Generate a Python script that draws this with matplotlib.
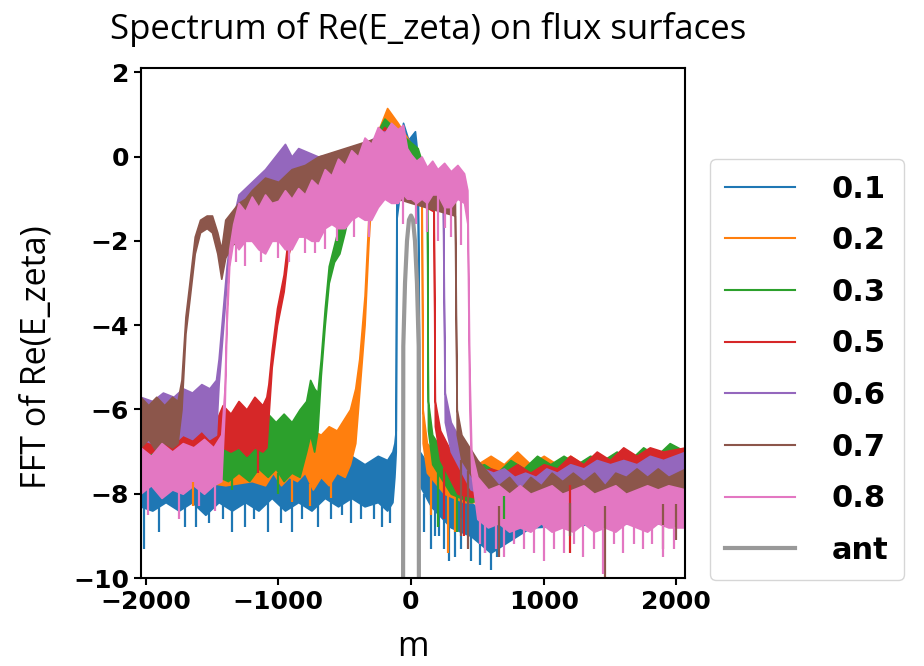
import matplotlib
matplotlib.use("Agg")
import matplotlib.pyplot as plt
from matplotlib.lines import Line2D
import numpy as np

# flux surface labels and matching colours
labels = ["0.1", "0.2", "0.3", "0.5", "0.6", "0.7", "0.8"]
colors = ["#1f77b4", "#ff7f0e", "#2ca02c", "#d62728", "#9467bd", "#8c564b", "#e377c2"]

# spectra: (m, lower edge, upper edge) of the noisy band
s01 = [(-2040, -8.3, -7.4), (-1950, -8.4, -7.6), (-1850, -8.2, -7.4), (-1750, -8.4, -7.5),
       (-1650, -8.2, -7.3), (-1550, -8.5, -7.5), (-1450, -8.2, -7.3), (-1350, -8.4, -7.4),
       (-1250, -8.2, -7.3), (-1150, -8.4, -7.4), (-1050, -8.1, -7.2), (-950, -8.4, -7.3),
       (-850, -8.2, -7.1), (-750, -8.4, -7.3), (-650, -8.1, -7.0), (-550, -8.3, -7.2),
       (-450, -8.1, -7.1), (-350, -8.3, -7.3), (-250, -8.2, -7.1), (-180, -8.4, -7.2),
       (-140, -8.2, -7.0), (-125, -7.6, -6.8), (-115, -7.0, -6.5), (-110, -1.5, -0.8),
       (-90, -1.0, 0.2), (-60, -0.6, 0.8), (-20, -0.8, 0.4), (30, -0.6, 0.6),
       (50, -1.0, 0.0), (60, -6.0, -4.0), (65, -7.8, -7.0), (150, -8.3, -7.4),
       (300, -8.8, -7.8), (450, -9.0, -8.2), (600, -9.4, -8.6), (700, -9.2, -8.4),
       (900, -8.8, -8.1), (1500, -8.7, -8.0), (2070, -8.7, -8.0)]
s02 = [(-2040, -7.7, -6.8), (-1800, -7.8, -6.9), (-1600, -7.7, -6.8), (-1400, -7.8, -6.9),
       (-1200, -7.7, -6.8), (-1100, -7.8, -6.7), (-1040, -7.5, -6.9), (-980, -7.8, -6.6),
       (-920, -7.6, -6.8), (-860, -7.7, -6.5), (-800, -7.5, -6.7), (-740, -7.9, -6.5),
       (-680, -7.6, -6.6), (-620, -7.8, -6.4), (-560, -7.5, -6.5), (-500, -7.6, -6.2),
       (-460, -7.3, -6.0), (-420, -6.8, -5.5), (-390, -5.6, -4.8), (-350, -4.0, -3.3),
       (-320, -2.0, -1.4), (-300, -1.0, -0.3), (-250, -0.6, 0.6), (-180, -0.3, 1.15),
       (-100, -0.5, 0.8), (0, -0.8, 0.3), (45, -0.8, 0.2), (80, -1.2, -0.4),
       (88, -6.8, -6.0), (120, -7.5, -6.8), (250, -8.0, -7.3), (400, -8.2, -7.5),
       (500, -8.2, -7.3), (600, -8.2, -7.1), (700, -8.1, -7.3), (800, -8.1, -7.0),
       (900, -8.0, -7.3), (1000, -8.0, -7.1), (1100, -7.9, -7.3), (1200, -7.9, -7.1),
       (1300, -7.8, -7.3), (1400, -7.8, -7.1), (1500, -7.7, -7.2), (1600, -7.7, -7.0),
       (1700, -7.7, -7.2), (1800, -7.6, -7.0), (1900, -7.6, -7.1), (2070, -7.6, -6.9)]
s03 = [(-2040, -7.6, -6.6), (-1700, -7.6, -6.6), (-1450, -7.6, -6.5), (-1380, -7.7, -6.4),
       (-1300, -7.5, -6.5), (-1220, -7.7, -6.3), (-1150, -7.4, -6.4), (-1080, -7.6, -6.1),
       (-1020, -7.4, -6.3), (-960, -7.7, -6.1), (-900, -7.5, -6.3), (-840, -7.6, -6.0),
       (-790, -7.0, -5.8), (-760, -6.6, -5.3), (-730, -7.0, -5.5), (-705, -6.5, -5.6),
       (-680, -5.2, -4.8), (-650, -4.0, -3.6), (-620, -3.0, -2.6), (-580, -2.5, -2.1),
       (-540, -2.3, -1.6), (-500, -1.8, -1.0), (-460, -1.2, -0.5), (-350, -0.9, 0.0),
       (-200, -0.5, 0.9), (-100, -0.6, 0.6), (50, -0.8, 0.2), (120, -1.2, -0.5),
       (128, -6.5, -5.8), (160, -7.3, -6.6), (300, -8.0, -7.3), (450, -8.2, -7.4),
       (550, -8.1, -7.3), (650, -8.1, -7.5), (750, -8.0, -7.2), (850, -8.0, -7.4),
       (950, -7.9, -7.1), (1050, -7.9, -7.3), (1150, -7.8, -7.1), (1250, -7.8, -7.3),
       (1350, -7.7, -7.1), (1450, -7.7, -7.2), (1550, -7.7, -7.0), (1650, -7.6, -7.2),
       (1750, -7.6, -6.9), (1850, -7.6, -7.1), (1950, -7.5, -6.8), (2070, -7.5, -7.0)]
s05 = [(-2040, -7.2, -6.4), (-1950, -7.0, -6.6), (-1870, -7.3, -6.4), (-1800, -7.1, -6.6),
       (-1730, -7.2, -6.3), (-1660, -7.0, -6.5), (-1590, -7.2, -6.3), (-1520, -7.1, -6.4),
       (-1460, -7.1, -6.2), (-1420, -6.9, -5.9), (-1360, -7.0, -6.1), (-1300, -6.9, -5.8),
       (-1240, -7.1, -6.0), (-1180, -6.9, -5.7), (-1120, -7.0, -5.9), (-1090, -6.9, -5.7),
       (-1075, -6.2, -5.4), (-1050, -5.0, -4.6), (-1010, -4.0, -3.6), (-960, -3.2, -2.8),
       (-930, -2.4, -2.0), (-890, -1.9, -1.5), (-850, -1.7, -1.2), (-700, -1.5, -0.6),
       (-400, -1.2, -0.2), (-200, -0.8, 0.7), (0, -1.0, 0.0), (170, -1.3, -0.6),
       (180, -6.4, -5.8), (220, -7.2, -6.5), (350, -8.0, -7.3), (500, -8.1, -7.5),
       (600, -8.1, -7.4), (700, -8.0, -7.5), (800, -8.0, -7.3), (900, -8.0, -7.5),
       (1000, -8.0, -7.3), (1100, -7.9, -7.4), (1200, -7.8, -7.1), (1300, -7.8, -7.3),
       (1400, -7.8, -7.0), (1500, -7.7, -7.2), (1600, -7.7, -6.9), (1700, -7.7, -7.1),
       (1800, -7.6, -6.9), (1900, -7.6, -7.0), (2070, -7.5, -6.9)]
s06 = [(-2040, -6.7, -5.7), (-1950, -6.8, -5.8), (-1870, -6.6, -5.6), (-1790, -6.8, -5.7),
       (-1720, -6.6, -5.5), (-1650, -6.7, -5.6), (-1580, -6.5, -5.4), (-1520, -6.7, -5.5),
       (-1470, -6.6, -5.3), (-1450, -5.4, -4.8), (-1420, -4.2, -3.7), (-1390, -3.0, -2.6),
       (-1350, -2.0, -1.6), (-1300, -1.4, -0.9), (-1200, -1.0, -0.6), (-1100, -0.8, -0.3),
       (-1000, -0.8, 0.1), (-950, -0.9, 0.3), (-900, -0.9, 0.0), (-850, -1.0, 0.2),
       (-700, -1.0, 0.0), (-400, -1.0, 0.2), (-200, -0.8, 0.6), (0, -1.0, -0.2),
       (240, -1.2, -0.6), (255, -6.3, -5.6), (300, -7.0, -6.3), (450, -7.9, -7.2),
       (540, -8.0, -7.4), (620, -8.1, -7.5), (700, -8.0, -7.4), (780, -8.1, -7.6),
       (860, -8.1, -7.5), (940, -8.0, -7.6), (1020, -8.0, -7.4), (1100, -8.0, -7.5),
       (1200, -7.9, -7.3), (1300, -7.9, -7.4), (1400, -7.9, -7.2), (1500, -7.8, -7.3),
       (1600, -7.8, -7.2), (1700, -7.8, -7.3), (1800, -7.7, -7.1), (1900, -7.7, -7.2),
       (2070, -7.6, -7.0)]
s07 = [(-2040, -6.9, -5.7), (-1980, -6.7, -5.9), (-1920, -7.0, -5.7), (-1860, -6.8, -5.9),
       (-1800, -6.9, -5.7), (-1760, -6.8, -5.8), (-1730, -6.0, -5.3), (-1700, -4.2, -3.8),
       (-1670, -3.4, -3.0), (-1630, -2.3, -1.9), (-1590, -1.8, -1.5), (-1540, -1.7, -1.4),
       (-1500, -1.8, -1.4), (-1460, -2.3, -1.8), (-1430, -2.9, -2.2), (-1400, -2.4, -1.5),
       (-1350, -2.1, -1.3), (-1300, -2.0, -1.1), (-1250, -1.9, -1.0), (-1200, -2.0, -0.8),
       (-1100, -1.8, -0.5), (-1000, -1.7, -0.6), (-900, -1.6, -0.3), (-800, -1.5, -0.2),
       (-700, -1.3, 0.0), (-600, -1.4, 0.1), (-400, -1.2, 0.3), (-200, -0.9, 0.5),
       (0, -1.1, -0.2), (330, -1.4, -0.6), (345, -6.6, -6.0), (380, -7.2, -6.6),
       (500, -7.8, -7.2), (580, -8.2, -7.5), (660, -8.3, -7.8), (740, -8.2, -7.6),
       (820, -8.3, -7.9), (900, -8.2, -7.6), (980, -8.3, -7.8), (1060, -8.2, -7.5),
       (1140, -8.3, -7.7), (1220, -8.2, -7.5), (1300, -8.3, -7.7), (1380, -8.2, -7.5),
       (1460, -8.3, -7.8), (1540, -8.2, -7.5), (1620, -8.3, -7.6), (1700, -8.2, -7.4),
       (1780, -8.3, -7.6), (1860, -8.2, -7.4), (1940, -8.3, -7.6), (2070, -8.2, -7.4)]
s08 = [(-2040, -8.0, -6.9), (-1960, -7.8, -7.1), (-1880, -8.1, -6.8), (-1800, -7.9, -7.0),
       (-1720, -8.0, -6.8), (-1640, -7.8, -6.9), (-1560, -8.0, -6.7), (-1490, -7.8, -6.9),
       (-1430, -7.7, -6.6), (-1405, -6.0, -5.5), (-1390, -4.0, -3.6), (-1370, -2.6, -2.2),
       (-1340, -2.0, -1.6), (-1300, -2.2, -1.1), (-1250, -2.0, -1.3), (-1200, -2.0, -0.95),
       (-1150, -2.2, -1.2), (-1100, -2.3, -0.9), (-1050, -2.0, -1.1), (-1000, -2.0, -1.05),
       (-950, -2.2, -0.8), (-900, -2.2, -1.0), (-850, -1.9, -0.75), (-800, -1.9, -0.9),
       (-750, -2.0, -0.55), (-700, -2.0, -0.7), (-650, -1.7, -0.3), (-600, -1.6, -0.45),
       (-550, -1.7, -0.05), (-500, -1.7, -0.2), (-450, -1.5, 0.15), (-400, -1.4, 0.0),
       (-350, -1.5, 0.45), (-300, -1.5, 0.3), (-250, -1.2, 0.7), (-200, -1.0, 0.55),
       (-150, -1.1, 0.8), (-100, -1.1, 0.65), (-60, -0.9, 0.75), (-30, -1.0, 0.2),
       (0, -1.0, 0.05), (40, -1.1, -0.1), (80, -1.0, 0.0), (120, -1.1, -0.25),
       (160, -0.9, -0.1), (200, -0.9, -0.3), (250, -1.2, -0.15), (300, -1.2, -0.35),
       (350, -1.0, -0.2), (400, -1.1, -0.4), (425, -1.6, -0.8), (440, -6.0, -5.0),
       (455, -7.5, -7.0), (500, -8.6, -7.6), (580, -8.8, -7.9), (660, -8.7, -7.8),
       (740, -8.9, -8.0), (820, -8.8, -7.8), (900, -8.9, -8.0), (980, -8.7, -7.9),
       (1060, -8.9, -7.8), (1140, -8.8, -8.0), (1220, -8.9, -7.9), (1300, -8.7, -7.8),
       (1380, -8.9, -8.0), (1460, -8.8, -7.9), (1540, -8.9, -7.8), (1620, -8.7, -8.0),
       (1700, -8.8, -7.9), (1780, -8.9, -7.8), (1860, -8.7, -7.9), (1940, -8.8, -7.8),
       (2070, -8.8, -7.9)]
series = [s01, s02, s03, s05, s06, s07, s08]

# downward spikes: (m, value)
spikes01 = [(-2010, -9.3), (-1900, -8.9), (-1700, -8.8), (-1620, -8.8), (-1520, -8.7),
            (-1420, -8.6), (-1350, -8.9), (-1250, -8.8), (-1180, -8.6), (-1080, -8.9),
            (-980, -8.7), (-900, -8.9), (-820, -8.6), (-700, -8.8), (-600, -8.6),
            (-520, -8.5), (-450, -8.7), (-380, -8.6), (-280, -8.6), (-220, -8.8),
            (-160, -8.7), (100, -8.9), (150, -9.3), (180, -9.0), (210, -9.0),
            (250, -9.3), (290, -9.6), (330, -9.5), (380, -9.3), (450, -9.6),
            (520, -9.7), (560, -9.4), (600, -9.8), (650, -9.5)]
spikes02 = [(-1640, -8.3), (-900, -8.2), (-760, -8.3), (-600, -8.1), (150, -8.5),
            (280, -9.4), (330, -8.9)]
spikes03 = [(-1350, -7.9), (-1000, -8.0), (200, -8.8), (350, -8.9), (700, -8.6)]
spikes05 = [(-1150, -7.5), (250, -8.6), (400, -9.0), (1200, -9.4)]
spikes07 = [(380, -9.0), (430, -9.3), (660, -9.5), (1200, -9.0), (1460, -10.0),
            (1900, -9.3), (2000, -9.1)]
spikes08 = [(-1980, -8.5), (-1750, -8.6), (-1600, -8.3), (-1480, -8.4),
            (-1320, -2.5), (-1250, -2.6), (-1130, -2.5), (-1000, -2.4), (-920, -2.5),
            (-800, -2.3), (-720, -2.3), (-650, -2.2), (-560, -2.0), (-430, -1.9),
            (-320, -1.9), (-60, -1.6), (40, -1.6), (120, -1.8), (200, -2.0),
            (260, -1.7), (300, -1.9), (380, -2.1), (520, -9.2), (560, -9.4),
            (640, -9.3), (700, -9.5), (780, -9.2), (850, -9.3), (930, -9.4),
            (1000, -9.6), (1080, -9.3), (1150, -9.4), (1230, -9.2), (1300, -9.5),
            (1380, -9.3), (1450, -9.9), (1530, -9.2), (1600, -9.4), (1680, -9.2),
            (1750, -9.3), (1820, -9.2), (1900, -9.5), (1980, -9.3)]
spikes = {0: spikes01, 1: spikes02, 2: spikes03, 3: spikes05, 5: spikes07, 6: spikes08}

# antenna spectrum
ant_m = [-60, -58, -45, -30, -15, 0, 15, 30, 45, 58, 60]
ant_v = [-12, -4.5, -3.0, -2.0, -1.5, -1.4, -1.5, -2.0, -3.0, -4.5, -12]

fig = plt.figure(figsize=(9.24, 6.66), dpi=100)
ax = fig.add_axes([0.1526, 0.1321, 0.5887, 0.7658])

for i, (s, c) in enumerate(zip(series, colors)):
    m = np.array([p[0] for p in s])
    lo = np.array([p[1] for p in s])
    hi = np.array([p[2] for p in s])
    ax.fill_between(m, lo, hi, color=c, lw=1.2)
    if i in spikes:
        sm = np.array([p[0] for p in spikes[i]])
        sv = np.array([p[1] for p in spikes[i]])
        ax.vlines(sm, sv, np.interp(sm, m, lo), color=c, lw=1.6)

ax.plot(ant_m, ant_v, color="#999999", lw=3)

ax.set_xlim(-2035, 2065)
ax.set_ylim(-10, 2.1)
ax.set_xticks([-2000, -1000, 0, 1000, 2000])
ax.set_yticks([-10, -8, -6, -4, -2, 0, 2])
for lab in ax.get_xticklabels() + ax.get_yticklabels():
    lab.set_fontweight("bold")
    lab.set_fontsize(18)
ax.tick_params(width=1.5, length=5)
for sp in ax.spines.values():
    sp.set_linewidth(1.5)

ax.set_title("Spectrum of Re(E_zeta) on flux surfaces", family="Open Sans",
             fontsize=25, pad=21, x=0.527)
ax.set_ylabel("FFT of Re(E_zeta)", family="Open Sans", fontsize=24.5)
ax.yaxis.set_label_coords(-0.16, 0.433)
ax.set_xlabel("m", family="Open Sans", fontsize=24.5, labelpad=12)

handles = [Line2D([], [], color=c, lw=1.5) for c in colors]
handles.append(Line2D([], [], color="#999999", lw=3))
fig.legend(handles, labels + ["ant"], loc="lower left", bbox_to_anchor=(0.768, 0.129),
           borderaxespad=0, prop={"weight": "bold", "size": 22}, labelspacing=0.74,
           handlelength=2.3, handletextpad=1.2, borderpad=0.5, frameon=True)

fig.savefig("out.png", dpi=100)
